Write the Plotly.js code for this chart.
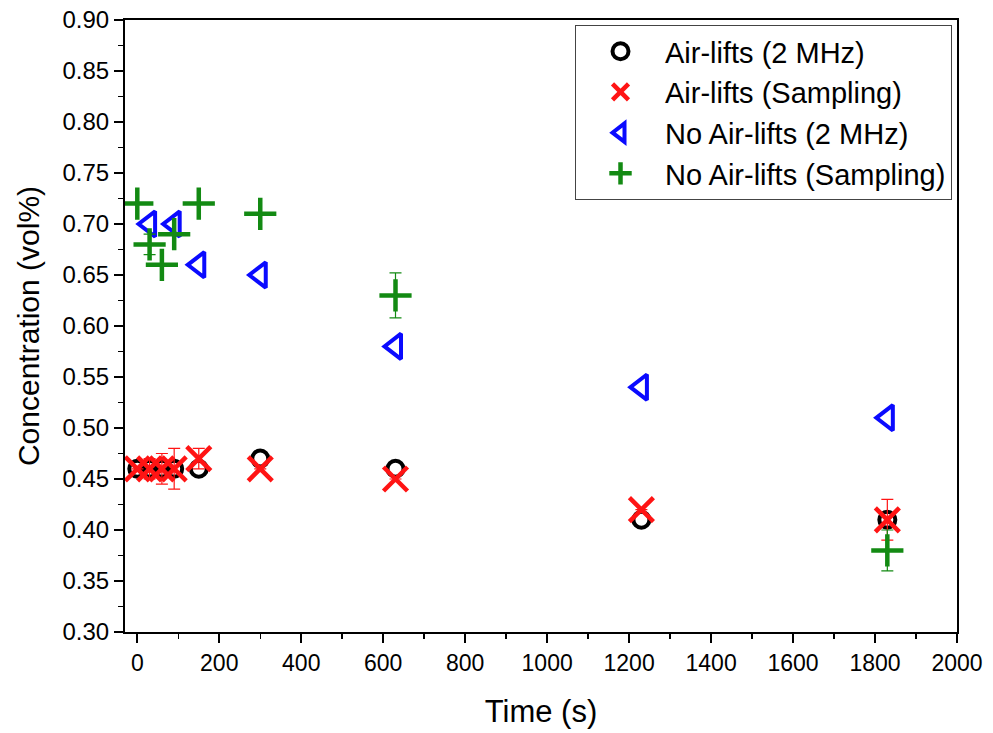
<!DOCTYPE html>
<html>
<head>
<meta charset="utf-8">
<script src="https://cdn.plot.ly/plotly-3.0.1.min.js"></script>
<style>html,body{margin:0;padding:0;background:#fff;}#chart{width:993px;height:733px;}</style>
</head>
<body>
<div id="chart"></div>
<script>
// Air-lifts (2 MHz)
const airMhzTime = [0, 30, 60, 90, 150, 300, 630, 1230, 1830];
const airMhzConc = [0.46, 0.46, 0.46, 0.46, 0.46, 0.47, 0.46, 0.41, 0.41];
// Air-lifts (Sampling)
const airSampTime = [0, 30, 60, 90, 150, 300, 630, 1230, 1830];
const airSampConc = [0.46, 0.46, 0.46, 0.46, 0.47, 0.46, 0.45, 0.42, 0.41];
const airSampErr  = [0, 0.01, 0.015, 0.02, 0.01, 0, 0, 0, 0.02];
// No Air-lifts (2 MHz)
const noAirMhzTime = [30, 90, 150, 300, 630, 1230, 1830];
const noAirMhzConc = [0.70, 0.70, 0.66, 0.65, 0.58, 0.54, 0.51];
// No Air-lifts (Sampling)
const noAirSampTime = [0, 30, 60, 90, 150, 300, 630, 1830];
const noAirSampConc = [0.72, 0.68, 0.66, 0.69, 0.72, 0.71, 0.63, 0.38];
const noAirSampErr  = [0, 0.01, 0, 0, 0, 0, 0.022, 0.02];

const seriesNames = ["Air-lifts (2 MHz)", "Air-lifts (Sampling)", "No Air-lifts (2 MHz)", "No Air-lifts (Sampling)"];
const xTickVals = [0, 200, 400, 600, 800, 1000, 1200, 1400, 1600, 1800, 2000];
const yTickVals = [0.30, 0.35, 0.40, 0.45, 0.50, 0.55, 0.60, 0.65, 0.70, 0.75, 0.80, 0.85, 0.90];

const RED = "#ff1414", BLUE = "#0a0aff", GREEN = "#138a13";

const traces = [
  {
    x: airMhzTime, y: airMhzConc, name: seriesNames[0], type: "scatter", mode: "markers",
    marker: {symbol: "circle-open", size: 16, color: "#000", line: {width: 4, color: "#000"}}
  },
  {
    x: airSampTime, y: airSampConc, name: seriesNames[1], type: "scatter", mode: "markers",
    marker: {symbol: "x-thin-open", size: 24, color: RED, line: {width: 4.5, color: RED}},
    error_y: {type: "data", array: airSampErr, visible: true, color: RED, thickness: 1.2, width: 6}
  },
  {
    x: noAirMhzTime, y: noAirMhzConc, name: seriesNames[2], type: "scatter", mode: "markers",
    marker: {symbol: "triangle-left-open", size: 22, color: BLUE, line: {width: 4, color: BLUE}}
  },
  {
    x: noAirSampTime, y: noAirSampConc, name: seriesNames[3], type: "scatter", mode: "markers",
    marker: {symbol: "cross-thin-open", size: 23, color: GREEN, line: {width: 4.5, color: GREEN}},
    error_y: {type: "data", array: noAirSampErr, visible: true, color: GREEN, thickness: 1.2, width: 6}
  }
];

const FONT = "Arial, 'Liberation Sans', sans-serif";

const layout = {
  width: 993, height: 733,
  margin: {l: 125, r: 36, t: 20, b: 101},
  paper_bgcolor: "#fff", plot_bgcolor: "#fff",
  font: {family: FONT, color: "#000", size: 24},
  showlegend: true,
  xaxis: {
    range: [-30, 2000], tickvals: xTickVals, ticktext: xTickVals.map(String),
    ticks: "outside", ticklen: 9, tickwidth: 1.8, tickcolor: "#000",
    minor: {dtick: 100, ticks: "outside", ticklen: 5, tickwidth: 1.5, tickcolor: "#000", showgrid: false},
    showline: true, linecolor: "#000", linewidth: 2, mirror: true,
    showgrid: false, zeroline: false,
    tickfont: {size: 23, family: FONT},
    title: {text: "Time (s)", font: {size: 31, family: FONT}, standoff: 26}
  },
  yaxis: {
    range: [0.30, 0.90], tickvals: yTickVals, ticktext: yTickVals.map(v => v.toFixed(2)),
    ticks: "outside", ticklen: 9, tickwidth: 1.8, tickcolor: "#000",
    minor: {dtick: 0.025, ticks: "outside", ticklen: 5, tickwidth: 1.5, tickcolor: "#000", showgrid: false},
    showline: true, linecolor: "#000", linewidth: 2, mirror: true,
    showgrid: false, zeroline: false,
    tickfont: {size: 24, family: FONT},
    title: {text: "Concentration (vol%)", font: {size: 30, family: FONT}, standoff: 14}
  },
  legend: {
    x: 0.994, y: 0.992, xanchor: "right", yanchor: "top",
    bgcolor: "#fff", bordercolor: "#444", borderwidth: 1,
    font: {size: 29, family: FONT}, tracegroupgap: 0, itemsizing: "trace",
    itemwidth: 79
  }
};

Plotly.newPlot("chart", traces, layout, {displayModeBar: false, staticPlot: true});
</script>
</body>
</html>
